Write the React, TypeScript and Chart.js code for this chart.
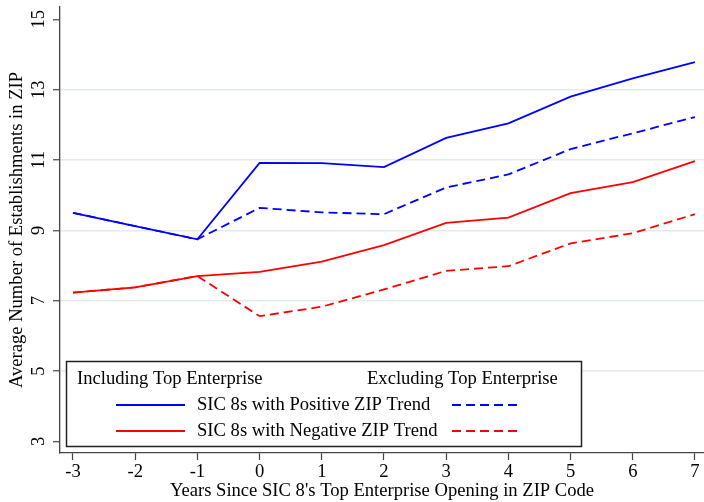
import React, { useEffect, useRef } from "react";
import { Chart, registerables } from "chart.js";

Chart.register(...registerables);

// ---- Data ----
const years = [-3, -2, -1, 0, 1, 2, 3, 4, 5, 6, 7];
const posIncluding = [9.5, 9.12, 8.745, 10.92, 10.91, 10.8, 11.63, 12.04, 12.8, 13.32, 13.78];
const posExcluding = [9.5, 9.12, 8.745, 9.64, 9.51, 9.46, 10.22, 10.59, 11.31, 11.76, 12.22];
const negIncluding = [7.23, 7.38, 7.7, 7.82, 8.11, 8.58, 9.21, 9.36, 10.06, 10.37, 10.97];
const negExcluding = [7.23, 7.38, 7.7, 6.56, 6.83, 7.32, 7.85, 7.98, 8.63, 8.92, 9.46];
const xTicks = [-3, -2, -1, 0, 1, 2, 3, 4, 5, 6, 7];
const yTicks = [3, 5, 7, 9, 11, 13, 15];
const legendHeaders = ["Including Top Enterprise", "Excluding Top Enterprise"];
const seriesLabels = ["SIC 8s with Positive ZIP Trend", "SIC 8s with Negative ZIP Trend"];
const xTitle = "Years Since SIC 8's Top Enterprise Opening in ZIP Code";
const yTitle = "Average Number of Establishments in ZIP";

const FONT = "Liberation Serif";
const FSIZE = 18.6;
const BLUE = "#0000ff";
const RED = "#ff0000";
const DASH = [9, 5];
const LINE_W = 1.8;

const toPoints = (vals: number[]) => years.map((x, i) => ({ x, y: vals[i] }));

const boxLegend = {
  id: "boxLegend",
  afterDatasetsDraw(chart: any) {
    const { ctx, chartArea } = chart;
    const left = chartArea.left + 6;
    const bottom = chartArea.bottom - 6;
    const w = 516;
    const h = 86;
    const top = bottom - h;
    ctx.save();
    ctx.fillStyle = "#ffffff";
    ctx.fillRect(left, top, w, h);
    ctx.strokeStyle = "#222";
    ctx.lineWidth = 1.5;
    ctx.strokeRect(left + 0.5, top + 0.5, w - 1, h - 1);

    ctx.font = `${FSIZE}px "${FONT}"`;
    ctx.fillStyle = "#000";
    ctx.textBaseline = "middle";
    ctx.textAlign = "left";
    ctx.fillText(legendHeaders[0], left + 11, top + 18);
    ctx.fillText(legendHeaders[1], left + 301, top + 18);

    const rows = [
      { y: top + 44, color: BLUE, label: seriesLabels[0] },
      { y: top + 70, color: RED, label: seriesLabels[1] },
    ];
    rows.forEach((r) => {
      ctx.strokeStyle = r.color;
      ctx.lineWidth = LINE_W;
      ctx.setLineDash([]);
      ctx.beginPath();
      ctx.moveTo(left + 50, r.y);
      ctx.lineTo(left + 119, r.y);
      ctx.stroke();
      ctx.setLineDash(DASH);
      ctx.beginPath();
      ctx.moveTo(left + 386, r.y);
      ctx.lineTo(left + 456, r.y);
      ctx.stroke();
      ctx.setLineDash([]);
      ctx.fillStyle = "#000";
      ctx.fillText(r.label, left + 131, r.y);
    });
    ctx.restore();
  },
};

export default function App() {
  const canvasRef = useRef<HTMLCanvasElement | null>(null);

  useEffect(() => {
    if (!canvasRef.current) return;
    const chart = new Chart(canvasRef.current, {
      type: "line",
      data: {
        datasets: [
          {
            label: "Positive excl.",
            data: toPoints(posExcluding),
            borderColor: BLUE,
            borderWidth: LINE_W,
            borderDash: DASH,
            pointRadius: 0,
            tension: 0,
          },
          {
            label: "Negative excl.",
            data: toPoints(negExcluding),
            borderColor: RED,
            borderWidth: LINE_W,
            borderDash: DASH,
            pointRadius: 0,
            tension: 0,
          },
          {
            label: "Positive incl.",
            data: toPoints(posIncluding),
            borderColor: BLUE,
            borderWidth: LINE_W,
            pointRadius: 0,
            tension: 0,
          },
          {
            label: "Negative incl.",
            data: toPoints(negIncluding),
            borderColor: RED,
            borderWidth: LINE_W,
            pointRadius: 0,
            tension: 0,
          },
        ],
      },
      options: {
        responsive: false,
        animation: false,
        devicePixelRatio: 1,
        layout: { padding: { top: 7, left: 0, right: 0, bottom: 0 } },
        plugins: {
          legend: { display: false },
          tooltip: { enabled: false },
        },
        scales: {
          x: {
            type: "linear",
            min: -3.209,
            max: 7.145,
            afterBuildTicks: (s: any) => {
              s.ticks = xTicks.map((v) => ({ value: v }));
            },
            afterFit: (s: any) => {
              s.height = 49;
              s.paddingLeft = 0;
              s.paddingRight = 0;
            },
            grid: {
              drawOnChartArea: false,
              tickLength: 7,
              tickColor: "#444",
              tickWidth: 1.2,
            },
            border: { color: "#444", width: 1.3 },
            ticks: {
              autoSkip: false,
              maxRotation: 0,
              padding: 1,
              color: "#000",
              font: { family: FONT, size: FSIZE },
            },
            title: {
              display: true,
              text: xTitle,
              color: "#000",
              font: { family: FONT, size: FSIZE, lineHeight: 1.15 },
              padding: { top: 0, bottom: 0 },
            },
          },
          y: {
            type: "linear",
            min: 2.67,
            max: 15.35,
            afterBuildTicks: (s: any) => {
              s.ticks = yTicks.map((v) => ({ value: v }));
            },
            afterFit: (s: any) => {
              s.width = 60;
              s.paddingTop = 0;
              s.paddingBottom = 0;
            },
            grid: {
              color: (c: any) =>
                c.tick && (c.tick.value === 15 || c.tick.value === 3) ? "rgba(0,0,0,0)" : "#e3ebed",
              lineWidth: 1.5,
              tickLength: 7,
              tickColor: "#444",
              tickWidth: 1.2,
            },
            border: { color: "#444", width: 1.3 },
            ticks: {
              autoSkip: false,
              minRotation: 90,
              maxRotation: 90,
              crossAlign: "center",
              padding: 5,
              color: "#000",
              font: { family: FONT, size: FSIZE },
            },
            title: {
              display: true,
              text: yTitle,
              color: "#000",
              font: { family: FONT, size: FSIZE, lineHeight: 1.2 },
              padding: { top: 6, bottom: 0 },
            },
          },
        },
      },
      plugins: [boxLegend],
    } as any);
    return () => chart.destroy();
  }, []);

  return (
    <div style={{ position: "absolute", left: 0, top: 0, width: 704, height: 502, background: "#fff" }}>
      <canvas ref={canvasRef} width={704} height={502} style={{ display: "block" }} />
    </div>
  );
}
